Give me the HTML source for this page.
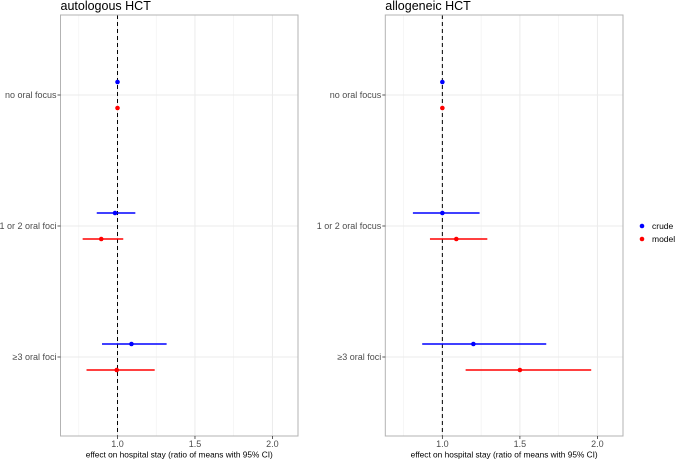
<!DOCTYPE html>
<html><head><meta charset="utf-8"><style>
body{margin:0;background:#fff;}
svg{display:block;font-family:"Liberation Sans",sans-serif;}
</style></head><body>
<svg id="chart" width="677" height="461" viewBox="0 0 677 461" xmlns="http://www.w3.org/2000/svg"></svg>
<script>
const categories = ["no oral focus", "1 or 2 oral foci", "≥3 oral foci"];
const rightCategories = ["no oral focus", "1 or 2 oral focus", "≥3 oral foci"];
const autoCrudeEst = [1.0, 0.984, 1.09];
const autoCrudeLo = [1.0, 0.866, 0.90];
const autoCrudeHi = [1.0, 1.115, 1.317];
const autoModelEst = [1.0, 0.895, 0.995];
const autoModelLo = [1.0, 0.775, 0.80];
const autoModelHi = [1.0, 1.037, 1.24];
const alloCrudeEst = [1.0, 1.0, 1.20];
const alloCrudeLo = [1.0, 0.81, 0.87];
const alloCrudeHi = [1.0, 1.24, 1.67];
const alloModelEst = [1.0, 1.09, 1.50];
const alloModelLo = [1.0, 0.92, 1.15];
const alloModelHi = [1.0, 1.29, 1.96];
const xTicks = [1.0, 1.5, 2.0];
const xTickLabels = ["1.0", "1.5", "2.0"];
const xMinor = [0.75, 1.25, 1.75];
const seriesNames = ["crude", "model"];

const NS = "http://www.w3.org/2000/svg";
const svg = document.getElementById("chart");
function el(tag, attrs, parent){
  const e = document.createElementNS(NS, tag);
  for (const k in attrs) e.setAttribute(k, attrs[k]);
  (parent || svg).appendChild(e);
  return e;
}
const xMin = 0.632, xMax = 2.165, plotTop = 15, plotBottom = 436;
const rowY = [95, 226, 357];
function panel(x0, x1, title, cats, cE, cL, cH, mE, mL, mH, name){
  const g = el("g", {});
  
  
  const sx = v => x0 + (v - xMin) / (xMax - xMin) * (x1 - x0);
  const t = el("text", {x: x0, y: 10, "font-size": 12.5, fill: "#000"}, g);
  t.textContent = title;
  
  
  xMinor.forEach(v => el("line", {x1: sx(v), x2: sx(v), y1: plotTop, y2: plotBottom, stroke: "#f0f0f0", "stroke-width": 0.6}, g));
  xTicks.forEach(v => el("line", {x1: sx(v), x2: sx(v), y1: plotTop, y2: plotBottom, stroke: "#ebebeb", "stroke-width": 1}, g));
  rowY.forEach(y => el("line", {x1: x0, x2: x1, y1: y, y2: y, stroke: "#ebebeb", "stroke-width": 1}, g));
  el("line", {x1: sx(1), x2: sx(1), y1: plotTop, y2: plotBottom, stroke: "#000", "stroke-width": 1, "stroke-dasharray": "4,3"}, g);
  const series = [[cE, cL, cH, "#0000ff", -13, "crude"], [mE, mL, mH, "#ff0000", 13, "model"]];
  series.forEach(s => {
    for (let i = 0; i < cats.length; i++) {
      const y = rowY[i] + s[4];
      const ln = el("line", {x1: sx(s[1][i]), x2: sx(s[2][i]), y1: y, y2: y, stroke: s[3], "stroke-width": 1.6}, g);
      
      
      const c = el("circle", {cx: sx(s[0][i]), cy: y, r: 2.3, fill: s[3]}, g);
      
      
    }
  });
  el("rect", {x: x0, y: plotTop, width: x1 - x0, height: plotBottom - plotTop, fill: "none", stroke: "#b3b3b3", "stroke-width": 1}, g);
  cats.forEach((c, i) => {
    el("line", {x1: x0 - 3, x2: x0, y1: rowY[i], y2: rowY[i], stroke: "#333", "stroke-width": 0.8}, g);
    const tl = el("text", {x: x0 - 4, y: rowY[i] + 3, "font-size": 9, fill: "#4d4d4d", "text-anchor": "end"}, g);
    tl.textContent = c;
    
    
  });
  xTicks.forEach((v, i) => {
    el("line", {x1: sx(v), x2: sx(v), y1: plotBottom, y2: plotBottom + 3, stroke: "#333", "stroke-width": 0.8}, g);
    const tl = el("text", {x: sx(v), y: 447, "font-size": 9, fill: "#4d4d4d", "text-anchor": "middle"}, g);
    tl.textContent = xTickLabels[i];
    
    
  });
  const at = el("text", {x: (x0 + x1) / 2, y: 457.5, "font-size": 8.3, fill: "#000", "text-anchor": "middle"}, g);
  at.textContent = "effect on hospital stay (ratio of means with 95% CI)";
  
  
}
panel(60.5, 298, "autologous HCT", categories, autoCrudeEst, autoCrudeLo, autoCrudeHi, autoModelEst, autoModelLo, autoModelHi, "autologous-panel");
panel(385.3, 623, "allogeneic HCT", rightCategories, alloCrudeEst, alloCrudeLo, alloCrudeHi, alloModelEst, alloModelLo, alloModelHi, "allogeneic-panel");
const lg = el("g", {});


["#0000ff", "#ff0000"].forEach((col, i) => {
  el("circle", {cx: 642, cy: 226 + i * 13, r: 2.3, fill: col}, lg);
  const t = el("text", {x: 652, y: 229 + i * 13, "font-size": 8.5, fill: "#000"}, lg);
  t.textContent = seriesNames[i];
  
  
});
</script>
</body></html>
